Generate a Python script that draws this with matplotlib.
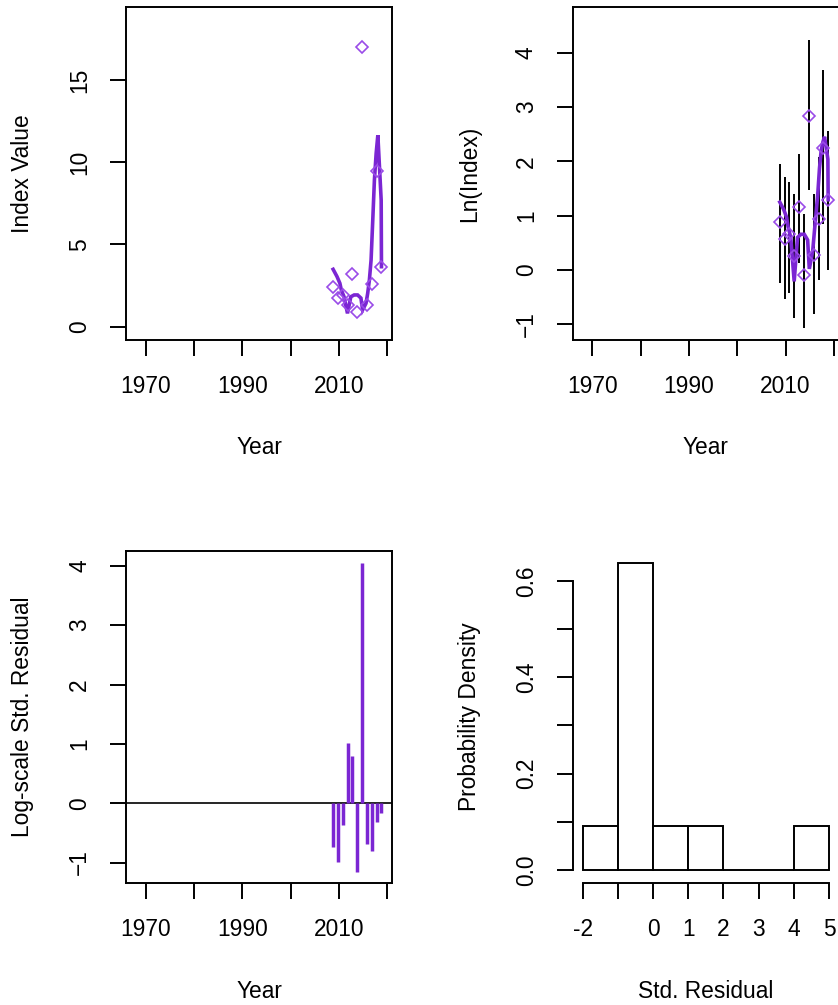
import numpy as np
import matplotlib
matplotlib.use("Agg")
import matplotlib.pyplot as plt

plt.rcParams['font.family'] = ['Liberation Sans', 'DejaVu Sans']

# ---- data ----
obs_years = [2008.8, 2009.8, 2010.8, 2011.8, 2012.8, 2013.8, 2014.8, 2015.8, 2016.8, 2017.8, 2018.8]
obs_index = [2.43, 1.76, 1.93, 1.30, 3.19, 0.91, 17.03, 1.32, 2.58, 9.50, 3.65]
ci_low_log = [-0.24, -0.53, -0.43, -0.89, 0.12, -1.07, 1.48, -0.82, -0.19, 0.84, 0.00]
ci_high_log = [1.95, 1.71, 1.63, 1.40, 2.14, 1.04, 4.23, 1.40, 2.08, 3.69, 2.56]
std_resid = [-0.74, -0.99, -0.36, 1.02, 0.79, -1.16, 4.04, -0.68, -0.80, -0.32, -0.16]

fit_years = [2008.8, 2009.6, 2010.2, 2010.5, 2011.06, 2011.77, 2012.46, 2013.15, 2013.86,
             2014.55, 2014.9, 2015.6, 2015.95, 2016.3, 2016.65, 2017.0, 2017.34,
             2017.7, 2018.05, 2018.74, 2018.8]
fit_index = [3.49, 3.05, 2.64, 2.23, 1.82, 0.81, 1.82, 1.93, 1.93, 1.74, 1.02, 1.42,
             2.03, 2.84, 4.05, 6.49, 8.92, 10.54, 11.65, 7.70, 3.65]

year_ticks = [1970, 1980, 1990, 2000, 2010, 2020]
year_labels = ['1970', '', '1990', '', '2010', '']
hist_breaks = [-2, -1, 0, 1, 2, 3, 4, 5]
hist_labels = ['-2', '', '0', '1', '2', '3', '4', '5']
dens_ticks = [0.0, 0.1, 0.2, 0.3, 0.4, 0.5, 0.6]
dens_labels = ['0.0', '', '0.2', '', '0.4', '', '0.6']

# ---- layout (pixels) ----
W, H = 838, 1005
fig = plt.figure(figsize=(W / 100, H / 100), dpi=100)


def add_ax(left, top, right, bottom):
    return fig.add_axes([left / W, 1 - bottom / H, (right - left) / W, (bottom - top) / H])


ax_tl = add_ax(126, 7.3, 392.3, 340)
ax_tr = add_ax(572.7, 7.3, 839, 340)
ax_bl = add_ax(126, 551, 392.3, 883.3)
ax_br = add_ax(572.7, 551, 839, 883.3)

PURPLE = '#7B26D3'
DIAM = '#9A4BE8'
FS = 16.4
SPINE_LW = 1.4


def style(ax):
    for s in ax.spines.values():
        s.set_linewidth(SPINE_LW)
    ax.tick_params(direction='out', length=11.5, width=SPINE_LW, labelsize=FS, pad=13.5)
    for lab in ax.get_yticklabels():
        lab.set_rotation(90)
        lab.set_va('center')


def labels(ax, xl, yl, axh):
    ax.set_xlabel(xl, fontsize=FS)
    ax.set_ylabel(yl, fontsize=FS)
    ax.xaxis.set_label_coords(0.5, -108 / axh)
    ax.xaxis.label.set_va('center')
    ax.yaxis.set_label_coords(-103 / 266.3, 0.5)
    ax.yaxis.label.set_va('center')


years_xlim = (1965.96, 2021.04)

# top-left: index value
ax = ax_tl
ax.plot(fit_years, fit_index, color=PURPLE, lw=2.6, solid_joinstyle='miter', zorder=2)
ax.plot(obs_years, obs_index, linestyle='none', marker='D', markersize=6.2,
        markerfacecolor='none', markeredgecolor=DIAM, markeredgewidth=1.2, zorder=3)
ax.set_xlim(*years_xlim)
ax.set_ylim(-0.81, 19.43)
ax.set_xticks(year_ticks)
ax.set_xticklabels(year_labels)
ax.set_yticks([0, 5, 10, 15])
style(ax)
labels(ax, 'Year', 'Index Value', 332.7)

# top-right: log index with intervals
ax = ax_tr
ax.vlines(obs_years, ci_low_log, ci_high_log, color='black', lw=1.4, zorder=1)
ax.plot(fit_years, np.log(fit_index), color=PURPLE, lw=2.6, solid_joinstyle='miter', zorder=2)
ax.plot(obs_years, np.log(obs_index), linestyle='none', marker='D', markersize=6.2,
        markerfacecolor='none', markeredgecolor=DIAM, markeredgewidth=1.2, zorder=3)
ax.set_xlim(*years_xlim)
ax.set_ylim(-1.29, 4.84)
ax.set_xticks(year_ticks)
ax.set_xticklabels(year_labels)
ax.set_yticks([-1, 0, 1, 2, 3, 4])
style(ax)
labels(ax, 'Year', 'Ln(Index)', 332.7)

# bottom-left: residuals
ax = ax_bl
ax.axhline(0, color='black', lw=1.2, zorder=1)
ax.vlines(obs_years, 0, std_resid, color=PURPLE, lw=2.5, zorder=2)
ax.set_xlim(*years_xlim)
ax.set_ylim(-1.35, 4.25)
ax.set_xticks(year_ticks)
ax.set_xticklabels(year_labels)
ax.set_yticks([-1, 0, 1, 2, 3, 4])
style(ax)
labels(ax, 'Year', 'Log-scale Std. Residual', 332.3)

# bottom-right: histogram
ax = ax_br
ax.hist(std_resid, bins=hist_breaks, density=True, facecolor='white',
        edgecolor='black', linewidth=1.4)
ax.set_xlim(-2.28, 5.28)
ax.set_ylim(-0.0276, 0.662)
for s in ['top', 'right']:
    ax.spines[s].set_visible(False)
ax.spines['left'].set_bounds(0, 0.6)
ax.spines['bottom'].set_bounds(-2, 5)
ax.set_xticks(hist_breaks)
ax.set_xticklabels(hist_labels)
ax.set_yticks(dens_ticks)
ax.set_yticklabels(dens_labels)
style(ax)
labels(ax, 'Std. Residual', 'Probability Density', 332.3)

fig.savefig('out.png', dpi=100)
